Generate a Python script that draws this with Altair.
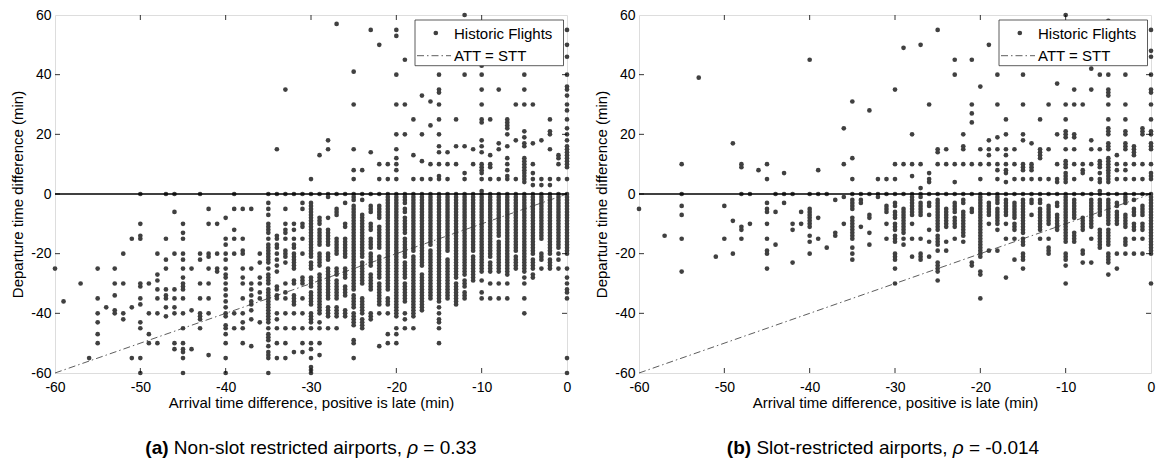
import altair as alt
import pandas as pd

FONT = "Liberation Sans"

# ---------------- data ----------------
X_TICKS = [-60, -50, -40, -30, -20, -10, 0]
Y_TICKS = [-60, -40, -20, 0, 20, 40, 60]
DIAG_X = [-60, 0]
DIAG_Y = [-60, 0]
LEGEND_LABELS = ["Historic Flights", "ATT = STT"]
X_TITLE = "Arrival time difference, positive is late (min)"
Y_TITLE = "Departure time difference (min)"
CAPTION_A = ["(a)", "Non-slot restricted airports,", "\u03c1", "= 0.33"]
CAPTION_B = ["(b)", "Slot-restricted airports,", "\u03c1", "= -0.014"]

# panel (a): non-slot restricted airports, (arrival diff, [departure diffs])
A_LEFT = [
    (-60, [-25]), (-59, [-36]), (-57, [-30]), (-56, [-55]),
    (-55, [-25, -35, -40, -43, -47, -50]), (-54, [-38]),
    (-53, [-25, -30, -34, -39, -40]), (-52, [-20, -30, -40, -42]),
    (-51, [-15, -38, -55]),
    (-50, [0, -10, -14, -15, -30, -31, -35, -37, -43, -45, -55, -60]),
    (-49, [-30, -40, -47, -50]),
    (-48, [-20, -27, -29, -32, -35, -40, -50]),
    (-47, [0, -15, -22, -25, -32, -34, -35, -38, -41]),
    (-46, [0, -6, -20, -32, -35, -38, -40, -50, -52]),
    (-45, [-10, -13, -15, -20, -22, -25, -28, -30, -31, -32, -35, -40, -45, -50, -52, -53, -55, -60]),
    (-44, [-25, -39, -52]),
    (-43, [0, -20, -22, -30, -35, -40, -41, -42, -45]),
    (-42, [-5, -10, -20, -21, -25, -30, -35, -40, -54]),
    (-41, [-10, -20, -25, -26]),
    (-40, [-8, -15, -17, -20, -22, -25, -27, -28, -30, -32, -34, -36, -38, -40, -41, -44, -45, -47, -50, -55, -60]),
    (-39, [0, -5, -12, -15, -20, -40, -45]),
    (-38, [-5, -15, -19, -20, -25, -28, -30, -35, -40, -43, -45, -50]),
    (-37, [-5, -25, -30, -32, -34, -36, -37, -39, -42, -51]),
    (-36, [-20, -23, -28, -30, -33, -35, -43]),
]
A_MID = [
    (-35, [0, -3, -5, -7, -10, -11, -12, -13, -15, -17, -18, -19, -20, -21, -22, -23, -25, -27, -28, -29, -30, -32, -33, -34, -35, -36, -37, -38, -39, -40, -41, -42, -43, -45, -47, -48, -49, -51, -53, -54, -55, -60]),
    (-34, [15, 0, -14, -15, -17, -18, -20, -22, -24, -26, -31, -32, -34, -35, -40, -42, -45, -50, -55]),
    (-33, [35, 0, -5, -10, -12, -13, -15, -19, -20, -21, -23, -30, -33, -35, -40, -45, -50, -55]),
    (-32, [0, -10, -12, -15, -17, -18, -20, -21, -22, -23, -24, -25, -29, -30, -34, -35, -36, -37, -40, -45, -53]),
    (-31, [0, -3, -5, -10, -11, -15, -20, -28, -29, -30, -35, -40, -45, -50, -53]),
    (-30, [5, 0, -3, -4, -5, -6, -7, -8, -9, -10, -11, -12, -13, -14, -15, -16, -17, -18, -19, -20, -21, -23, -24, -25, -28, -29, -30, -31, -33, -34, -35, -36, -37, -40, -41, -42, -43, -45, -50, -52, -55, -58, -59, -60]),
    (-29, [13, 0, -8, -9, -10, -12, -13, -14, -15, -16, -17, -20, -21, -22, -23, -24, -27, -28, -29, -30, -31, -32, -33, -34, -35, -36, -37, -38, -39, -40, -43, -45, -50, -54]),
    (-28, [18, 15, 0, -1, -8, -12, -13, -14, -15, -16, -17, -20, -21, -22, -25, -26, -27, -28, -29, -30, -31, -32, -33, -34, -35, -38, -39, -40, -41, -45]),
    (-27, [57, 0, -5, -6, -7, -15, -16, -17, -18, -19, -20, -25, -26, -27, -29, -30, -31, -32, -33, -34, -35, -38, -39, -40, -41, -45]),
    (-26, [0, -3, -10, -11, -15, -16, -17, -18, -19, -20, -21, -25, -26, -27, -28, -31, -32, -33, -34, -39, -40, -41]),
]
A_RIGHT = [
    (-25, [41, 30, 15, 8, 5, 0, -1, -2, -4, -5, -6, -7, -8, -9, -10, -11, -12, -13, -14, -15, -16, -17, -18, -19, -20, -21, -22, -23, -24, -25, -26, -27, -28, -29, -30, -31, -32, -34, -35, -36, -37, -38, -40, -41, -42, -43, -44, -49, -50, -55]),
    (-24, [8, 0, -2, -7, -8, -9, -10, -11, -12, -13, -14, -15, -16, -17, -18, -19, -20, -21, -23, -24, -25, -26, -27, -28, -29, -30, -35, -36, -37, -38, -39, -40, -42, -43, -44, -45]),
    (-23, [55, 14, 0, -4, -5, -6, -10, -11, -12, -15, -16, -17, -18, -20, -21, -22, -23, -24, -27, -28, -29, -30, -31, -32, -40, -41, -42]),
    (-22, [50, 10, 5, 0, -4, -5, -6, -7, -8, -11, -12, -13, -14, -15, -16, -17, -18, -21, -22, -23, -24, -25, -26, -27, -28, -30, -31, -32, -33, -34, -35, -36, -37, -40, -51]),
    (-21, [10, 5, 0, -1, -2, -3, -4, -5, -6, -7, -8, -9, -10, -11, -12, -13, -14, -15, -16, -17, -18, -19, -20, -21, -22, -23, -24, -25, -26, -27, -28, -29, -30, -31, -32, -35, -36, -37, -40, -47, -50]),
    (-20, [55, 53, 40, 30, 20, 15, 12, 10, 8, 5, 0, -1, -2, -3, -4, -5, -6, -7, -8, -9, -10, -11, -12, -13, -14, -15, -16, -17, -18, -19, -20, -21, -22, -23, -24, -25, -26, -27, -28, -29, -30, -31, -32, -33, -34, -35, -36, -37, -38, -39, -40, -41, -45, -47, -50]),
    (-19, [45, 30, 20, 0, -1, -2, -3, -5, -6, -8, -9, -10, -11, -12, -13, -15, -16, -17, -18, -19, -20, -21, -23, -24, -25, -26, -27, -28, -30, -31, -32, -33, -34, -35, -36, -40, -42, -45]),
    (-18, [25, 13, 5, 0, -1, -2, -3, -4, -5, -6, -7, -8, -9, -10, -11, -12, -13, -14, -15, -16, -17, -18, -19, -21, -22, -23, -24, -25, -26, -27, -28, -29, -30, -31, -32, -33, -34, -35, -36, -37, -38, -39, -40, -41, -45]),
    (-17, [33, 20, 11, 5, 0, -1, -2, -3, -4, -5, -6, -7, -8, -9, -10, -11, -12, -13, -14, -15, -16, -17, -18, -19, -20, -21, -22, -23, -24, -27, -28, -29, -30, -31, -32, -33, -34, -35, -36, -37, -38, -39]),
    (-16, [31, 23, 10, 5, 0, -1, -2, -3, -4, -5, -6, -7, -8, -9, -10, -11, -12, -13, -14, -15, -16, -17, -19, -20, -21, -22, -23, -24, -25, -26, -27, -28, -29, -30, -31, -32, -33, -34, -35]),
    (-15, [40, 35, 34, 30, 25, 20, 16, 14, 10, 6, 5, 0, -1, -2, -3, -4, -5, -6, -7, -8, -9, -10, -11, -12, -13, -14, -15, -16, -17, -18, -19, -20, -21, -22, -23, -24, -25, -26, -27, -28, -29, -30, -31, -32, -33, -34, -35, -36, -38, -40, -42, -43, -45, -50]),
    (-14, [14, 10, 5, 0, -1, -2, -3, -4, -5, -6, -7, -8, -9, -10, -11, -12, -13, -14, -15, -16, -17, -18, -19, -22, -23, -24, -25, -26, -27, -28, -29, -30, -31, -32, -33, -34, -35]),
    (-13, [25, 16, 10, 0, -1, -2, -3, -4, -5, -6, -7, -8, -9, -10, -11, -12, -13, -14, -15, -16, -17, -18, -19, -20, -21, -22, -23, -24, -25, -26, -27, -28, -30, -31, -32, -33, -34, -35, -36, -37]),
    (-12, [60, 40, 16, 7, 5, 0, -1, -2, -3, -4, -5, -6, -7, -8, -9, -10, -11, -12, -13, -14, -15, -16, -17, -18, -19, -20, -21, -22, -23, -24, -25, -26, -27, -29, -30, -31, -33, -34, -35]),
    (-11, [15, 10, 0, -1, -2, -3, -4, -5, -6, -7, -8, -9, -10, -11, -12, -13, -14, -15, -16, -17, -18, -19, -21, -22, -23, -24, -25, -26, -27, -28, -29]),
    (-10, [43, 40, 35, 30, 25, 24, 18, 16, 14, 10, 9, 8, 7, 5, 1, 0, -1, -2, -3, -4, -5, -6, -7, -8, -9, -10, -11, -12, -13, -14, -15, -16, -17, -18, -19, -20, -21, -22, -23, -24, -25, -26, -29, -33, -35]),
    (-9, [25, 13, 10, 9, 5, 0, -1, -2, -3, -4, -5, -6, -7, -8, -9, -10, -11, -12, -13, -14, -15, -16, -17, -18, -19, -20, -21, -23, -24, -25, -26, -30, -35]),
    (-8, [35, 17, 15, 5, 0, -1, -2, -3, -4, -5, -6, -7, -8, -9, -10, -11, -12, -13, -14, -16, -17, -18, -19, -20, -21, -22, -23, -24, -25, -26, -30, -35]),
    (-7, [25, 24, 23, 22, 20, 16, 12, 10, 8, 6, 5, 0, -1, -2, -3, -4, -5, -6, -7, -8, -9, -10, -11, -12, -13, -14, -15, -16, -17, -18, -19, -20, -21, -22, -23, -24, -25, -26, -27, -30, -35]),
    (-6, [30, 18, 5, 0, -1, -2, -3, -4, -5, -6, -7, -8, -9, -10, -11, -12, -13, -14, -15, -16, -17, -18, -19, -21, -22, -23, -24, -25]),
    (-5, [40, 35, 30, 21, 19, 17, 16, 12, 11, 10, 9, 8, 7, 6, 5, 4, 0, -1, -2, -3, -4, -5, -6, -7, -8, -9, -10, -11, -12, -13, -14, -15, -16, -17, -18, -19, -20, -21, -22, -23, -24, -25, -26, -28, -30, -35, -40]),
    (-4, [30, 17, 10, 7, 5, 3, 0, -1, -2, -3, -4, -5, -6, -7, -8, -9, -10, -11, -12, -13, -14, -15, -16, -17, -18, -19, -20, -22, -23, -24, -25, -27, -28]),
    (-3, [18, 5, 3, 0, -1, -2, -3, -4, -5, -6, -7, -8, -9, -10, -11, -12, -13, -14, -15, -20, -21, -22, -25]),
    (-2, [25, 21, 20, 15, 5, 3, 0, -1, -2, -3, -4, -5, -6, -7, -8, -9, -10, -11, -12, -13, -14, -15, -16, -17, -18, -19, -20, -22, -23, -24, -25]),
    (-1, [13, 12, 10, 5, 0, -1, -2, -3, -4, -5, -6, -7, -8, -9, -10, -11, -12, -13, -14, -15, -16, -17, -18, -20, -22, -25]),
    (0, [55, 50, 46, 40, 36, 35, 33, 30, 28, 25, 22, 20, 18, 16, 15, 14, 13, 12, 11, 10, 9, 5, 0, -1, -2, -3, -4, -5, -6, -7, -8, -9, -10, -11, -12, -13, -14, -15, -16, -17, -18, -19, -20, -25, -28, -30, -32, -33, -35, -55, -60]),
]

# panel (b): slot-restricted airports
B_LEFT = [
    (-60, [-5]), (-57, [-14]), (-55, [10, 0, -4, -7, -15, -26]), (-53, [39]),
    (-51, [-21]), (-50, [-4, -15]), (-49, [17, -9, -20]),
    (-48, [10, 9, 0, -11, -12, -15]), (-47, [0, -10]), (-46, [8]),
    (-45, [10, 5, -3, -5, -6, -10, -15, -19, -20, -25]),
    (-44, [0, -6, -17]), (-43, [7, 0, -3]), (-42, [0, -10, -12, -23]),
    (-41, [-6, -10]),
    (-40, [45, 0, -5, -6, -7, -8, -9, -10, -11, -14, -16, -20]),
    (-39, [8, 0, -8, -15]), (-38, [0, -18]), (-37, [-2, -13, -14]),
    (-36, [22, 10, -1, -10]),
    (-35, [31, 12, 5, 0, -2, -3, -4, -5, -8, -9, -10, -11, -12, -13, -14, -15, -18, -20, -22]),
    (-34, [0, -2, -3, -11]), (-33, [28, 0, -7, -8, -13, -17]), (-32, [5, 0, -1]),
    (-31, [5, 0, -4, -5, -6, -10, -15]),
]
B_MID = [
    (-30, [35, 10, 5, 0, -3, -4, -6, -7, -8, -10, -11, -12, -14, -15, -16, -20, -21, -22, -25, -30]),
    (-29, [49, 10, 0, -5, -6, -7, -8, -9, -10, -11, -12, -13, -15, -17]),
    (-28, [20, 10, 6, 0, -1, -2, -3, -4, -5, -6, -7, -10, -15, -21]),
    (-27, [50, 10, 2, 0, -1, -3, -4, -5, -6, -7, -15, -20, -21, -22]),
    (-26, [30, 7, 5, 4, 0, -3, -4, -7, -12, -16, -21]),
    (-25, [55, 15, 14, 10, 0, -2, -3, -4, -5, -6, -7, -8, -9, -10, -11, -12, -14, -15, -16, -17, -19, -23, -24, -25, -26, -29]),
    (-24, [15, 10, 0, -5, -6, -7, -8, -9, -10, -11, -16, -19]),
    (-23, [45, 40, 10, 4, 0, -3, -4, -5, -6, -8, -9, -10, -11, -15]),
    (-22, [20, 16, 15, 10, 0, -2, -3, -6, -7, -8, -9, -10, -11, -12, -13, -14, -16]),
    (-21, [45, 30, 27, 24, 10, 0, -5, -6, -23, -24]),
    (-20, [36, 15, 10, 5, 0, -1, -2, -3, -4, -5, -6, -7, -8, -9, -10, -11, -12, -13, -14, -15, -16, -17, -18, -19, -20, -21, -26, -27, -35]),
    (-19, [50, 18, 15, 13, 10, 0, -3, -4, -5, -6, -7, -10, -19]),
    (-18, [40, 30, 19, 15, 10, 8, 5, 0, -1, -2, -3, -5, -6, -7, -8, -9, -10, -12, -19]),
    (-17, [25, 20, 15, 13, 10, 8, 7, 4, 0, -2, -3, -4, -5, -6, -7, -10, -15, -28]),
    (-16, [15, 10, 5, 0, -3, -4, -5, -6, -7, -8, -10, -11, -12, -15, -22]),
]
B_RIGHT = [
    (-15, [40, 30, 20, 18, 10, 9, 8, 5, 0, -2, -3, -4, -5, -6, -7, -8, -9, -10, -11, -12, -13, -15, -16, -17, -20, -21, -22, -25]),
    (-14, [17, 10, 9, 8, 5, 0, -2, -3, -7]),
    (-13, [25, 15, 14, 13, 12, 5, 0, -2, -3, -5, -6, -7, -8, -9, -10, -11, -12, -15]),
    (-12, [30, 15, 5, 0, -4, -5, -6, -7, -8, -9, -10, -15, -18, -19, -20]),
    (-11, [37, 20, 10, 5, 4, 0, -3, -4, -7, -8, -9, -10, -11, -12]),
    (-10, [60, 30, 25, 21, 20, 19, 15, 11, 10, 9, 7, 6, 5, 4, 0, -1, -2, -3, -4, -5, -6, -7, -8, -9, -10, -11, -12, -13, -14, -15, -16, -20, -21, -22, -24, -30]),
    (-9, [35, 30, 20, 19, 15, 10, 5, 0, -2, -3, -4, -5, -6, -7, -8, -13, -14, -15, -16]),
    (-8, [30, 10, 8, 7, 0, -8, -9, -10, -11, -12, -19, -20, -23]),
    (-7, [42, 35, 18, 15, 10, 5, 0, -2, -3, -4, -5, -6, -7, -8, -9, -10, -11, -15, -23]),
    (-6, [40, 15, 11, 10, 9, 7, 5, 4, 1, 0, -2, -3, -4, -5, -6, -7, -12, -13, -14, -15, -16, -17, -18]),
    (-5, [58, 40, 35, 34, 33, 30, 25, 22, 21, 20, 17, 16, 15, 12, 11, 10, 9, 8, 7, 6, 5, 4, 0, -2, -3, -4, -5, -6, -7, -8, -9, -10, -12, -13, -14, -15, -16, -17, -20, -21, -22, -23, -27]),
    (-4, [13, 10, 8, 5, 0, -3, -4, -6, -7, -8, -9, -10, -20, -25]),
    (-3, [40, 30, 25, 21, 20, 17, 16, 15, 10, 8, 5, 0, -1, -2, -3, -7, -8, -9, -10, -11, -15, -16, -17, -20]),
    (-2, [16, 15, 14, 13, 10, 5, 0, -2, -5, -6, -7, -10, -11, -12, -15, -20]),
    (-1, [22, 21, 20, 10, 5, 0, -4, -5, -6, -7, -10, -11, -12, -15, -20]),
    (0, [55, 48, 46, 40, 35, 34, 30, 25, 21, 20, 17, 16, 15, 10, 7, 6, 5, 0, -1, -2, -3, -4, -5, -6, -7, -8, -9, -10, -11, -12, -13, -14, -15, -16, -17, -18, -19, -20, -30]),
]

# ---------------- layout / style ----------------
W, H = 512, 358
DOT = "#404040"
DOT_SIZE = 22
LABEL_SIZE = 14
TITLE_SIZE = 15
LEGEND_SIZE = 15
CAP_SIZE = 19
CAP_Y = 433
CAP_SHIFT = [0, -12]

REG = {" ": .278, "(": .333, ")": .333, ",": .278, "-": .333, ".": .278, "=": .584,
       "N": .722, "S": .667, "a": .556, "b": .556, "c": .5, "d": .556, "e": .556,
       "i": .222, "l": .222, "n": .556, "o": .556, "p": .556, "r": .333, "s": .5, "t": .278}
BOLD = {"(": .333, ")": .333, "a": .556, "b": .611}


def text_w(s, table, size):
    return sum(table.get(ch, .556) for ch in s) * size


def flatten(*groups):
    rows = []
    for g in groups:
        for x, ys in g:
            for y in ys:
                rows.append({"x": x, "y": y})
    return pd.DataFrame(rows)


xs = alt.Scale(domain=[-60, 0], nice=False, zero=False)
ys = alt.Scale(domain=[-60, 60], nice=False, zero=False)
xaxis = alt.Axis(values=X_TICKS, title=X_TITLE, ticks=False, domain=False, grid=False,
                 labelExpr="'' + datum.value", labelFontSize=LABEL_SIZE, labelFont=FONT,
                 labelColor="#000", labelPadding=7, labelFlush=False,
                 titleFont=FONT, titleFontSize=TITLE_SIZE, titleFontWeight="normal",
                 titleColor="#000", titlePadding=1)
yaxis = alt.Axis(values=Y_TICKS, title=Y_TITLE, ticks=False, domain=False, grid=False,
                 labelExpr="'' + datum.value", labelFontSize=LABEL_SIZE, labelFont=FONT,
                 labelColor="#000", labelPadding=4, labelFlush=False,
                 titleFont=FONT, titleFontSize=TITLE_SIZE, titleFontWeight="normal",
                 titleColor="#000", titlePadding=5)


def X(field="x"):
    return alt.X(f"{field}:Q", scale=xs, axis=xaxis)


def Y(field="y"):
    return alt.Y(f"{field}:Q", scale=ys, axis=yaxis)


one = pd.DataFrame({"k": [0]})


def panel(df, caption, shift):
    pts = alt.Chart(df).mark_circle(size=DOT_SIZE, color=DOT, opacity=1).encode(x=X(), y=Y())
    zero = alt.Chart(pd.DataFrame({"y": [0]})).mark_rule(color="#000", strokeWidth=1.3).encode(y=Y())
    diag = alt.Chart(pd.DataFrame({"x": DIAG_X, "y": DIAG_Y})).mark_line(
        color="#333", strokeWidth=0.8, strokeDash=[7, 3, 1.5, 3]).encode(x=X(), y=Y())
    xt = pd.DataFrame({"x": X_TICKS[1:-1]})
    yt = pd.DataFrame({"y": Y_TICKS[1:-1]})
    tk = dict(color="#000", strokeWidth=0.8)
    t_top = alt.Chart(xt).mark_rule(**tk).encode(x=X(), y=alt.value(0), y2=alt.value(5))
    t_bot = alt.Chart(xt).mark_rule(**tk).encode(x=X(), y=alt.value(H), y2=alt.value(H - 5))
    t_left = alt.Chart(yt).mark_rule(**tk).encode(y=Y(), x=alt.value(0), x2=alt.value(5))
    t_right = alt.Chart(yt).mark_rule(**tk).encode(y=Y(), x=alt.value(W), x2=alt.value(W - 5))

    # legend box
    lx0, lx1, ly0, ly1 = 360, 508.5, 5, 50.7
    box = alt.Chart(one).mark_rect(fill="white", stroke="#333", strokeWidth=0.8).encode(
        x=alt.value(lx0), x2=alt.value(lx1), y=alt.value(ly0), y2=alt.value(ly1))
    ldot = alt.Chart(one).mark_circle(size=DOT_SIZE, color=DOT, opacity=1).encode(
        x=alt.value(380.8), y=alt.value(18))
    lline = alt.Chart(one).mark_rule(color="#333", strokeWidth=0.8, strokeDash=[7, 3, 1.5, 3]).encode(
        x=alt.value(362), x2=alt.value(396), y=alt.value(40.7))
    ltxt = [alt.Chart(one).mark_text(align="left", baseline="middle", font=FONT,
                                     fontSize=LEGEND_SIZE, color="#000").encode(
        x=alt.value(399), y=alt.value(yy), text=alt.value(lab))
        for lab, yy in zip(LEGEND_LABELS, [18.5, 41])]

    # caption
    bold, normal, rho, tail = caption
    wb = text_w(bold, BOLD, CAP_SIZE)
    wsp = REG[" "] * CAP_SIZE
    wn = text_w(normal, REG, CAP_SIZE)
    wr = 0.57 * CAP_SIZE
    wt = text_w(tail, REG, CAP_SIZE)
    total = wb + wsp + wn + wsp + wr + wsp + wt
    x0 = W / 2 - total / 2 + shift
    pieces = [
        (bold, x0, "bold", "normal"),
        (normal, x0 + wb + wsp, "normal", "normal"),
        (rho, x0 + wb + wsp + wn + wsp, "normal", "italic"),
        (tail, x0 + wb + wsp + wn + wsp + wr + wsp, "normal", "normal"),
    ]
    caps = [alt.Chart(one).mark_text(align="left", baseline="middle", font=FONT,
                                     fontSize=CAP_SIZE, fontWeight=fw, fontStyle=fs,
                                     color="#000").encode(
        x=alt.value(px), y=alt.value(CAP_Y), text=alt.value(s))
        for s, px, fw, fs in pieces]

    return alt.layer(pts, diag, zero, t_top, t_bot, t_left, t_right,
                     box, ldot, lline, *ltxt, *caps).properties(width=W, height=H)


pa = panel(flatten(A_LEFT, A_MID, A_RIGHT), CAPTION_A, CAP_SHIFT[0])
pb = panel(flatten(B_LEFT, B_MID, B_RIGHT), CAPTION_B, CAP_SHIFT[1])

chart = alt.hconcat(pa, pb, spacing=72, bounds="flush").properties(
    padding={"left": 10, "top": 7, "right": 5, "bottom": 5}
).configure_view(stroke="#222", strokeWidth=1).configure(background="white")

chart.save("out.html", embed_options={"renderer": "svg", "actions": False})
